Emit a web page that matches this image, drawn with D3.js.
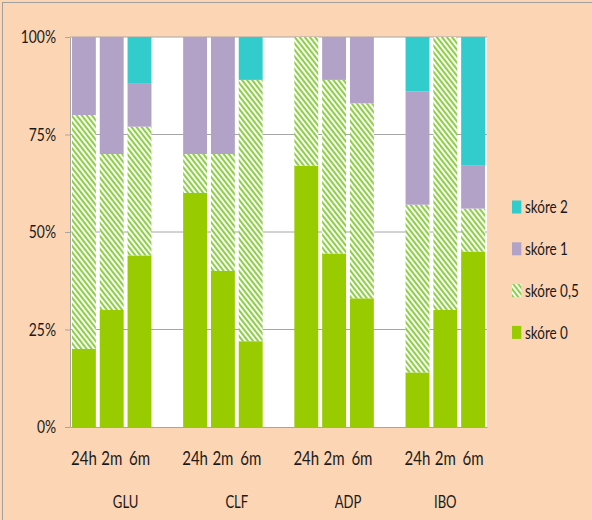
<!DOCTYPE html>
<html>
<head>
<meta charset="utf-8">
<script src="https://cdn.jsdelivr.net/npm/d3@7"></script>
<style>
  body { margin: 0; background: #fcd5b5; }
  text { font-family: Lato, "Open Sans", sans-serif; fill: #1a1a1a; }
</style>
</head>
<body>
<div id="chart"></div>
<script>
// groups and time points on the x axis
var groups = ["GLU", "CLF", "ADP", "IBO"];
var times = ["24h", "2m", "6m"];

// share of each score, in %, bar by bar (GLU 24h, 2m, 6m, CLF 24h, ...)
var skore0  = [20, 30, 44,   60, 40, 22,   67, 44.5, 33,   14, 30, 45];
var skore05 = [60, 40, 33,   10, 30, 67,   33, 44.5, 50,   43, 70, 11];
var skore1  = [20, 30, 11,   30, 30,  0,    0, 11,   17,   29,  0, 11];
var skore2  = [ 0,  0, 12,    0,  0, 11,    0,  0,    0,   14,  0, 33];

var yTicks = [0, 0.25, 0.5, 0.75, 1];

var seriesKeys = ["s0", "s05", "s1", "s2"];
var legendNames = {s2: "skóre 2", s1: "skóre 1", s05: "skóre 0,5", s0: "skóre 0"};
var colors = {s0: "#99cc00", s05: "url(#hatch)", s1: "#b3a2c7", s2: "#33cccc"};

var W = 592, H = 520;
var margin = {top: 37, left: 70},
    width = 417, height = 390;
var sx = 0.77; // text in the picture is squeezed sideways

// build the rows, with an empty slot after every group except the last
var slots = [], rows = [];
groups.forEach(function(g, gi) {
  times.forEach(function(t, ti) {
    var i = gi * times.length + ti;
    var id = g + "-" + t;
    slots.push(id);
    rows.push({id: id, time: t, s0: skore0[i] / 100, s05: skore05[i] / 100,
               s1: skore1[i] / 100, s2: skore2[i] / 100});
  });
  if (gi < groups.length - 1) slots.push(g + "-gap");
});

var x = d3.scaleBand()
    .domain(slots)
    .range([0, width])
    .paddingInner(0.14)
    .paddingOuter(0.07);

var y = d3.scaleLinear()
    .domain([0, 1])
    .range([height, 0]);

var svg = d3.select("#chart").append("svg")
    .attr("width", W)
    .attr("height", H);

var defs = svg.append("defs");
var pat = defs.append("pattern")
    .attr("id", "hatch")
    .attr("patternUnits", "userSpaceOnUse")
    .attr("width", 4)
    .attr("height", 4)
    .attr("patternTransform", "rotate(-38)");
pat.append("rect").attr("width", 4).attr("height", 4).attr("fill", "#ffffff");
pat.append("rect").attr("width", 2.1).attr("height", 4).attr("fill", "#8fcf48");

// chart background and outer frame
svg.append("rect")
    .attr("x", 2.5).attr("y", 2.5)
    .attr("width", W).attr("height", H)
    .attr("fill", "#fcd5b5")
    .attr("stroke", "#a0a0a0");

var g = svg.append("g")
    .attr("transform", "translate(" + margin.left + "," + margin.top + ")");

g.append("rect")
    .attr("width", width)
    .attr("height", height)
    .attr("fill", "#ffffff");

// gridlines
g.selectAll(".grid")
    .data(yTicks.slice(1))
  .enter().append("line")
    .attr("x1", 0).attr("x2", width)
    .attr("y1", function(d) { return y(d); })
    .attr("y2", function(d) { return y(d); })
    .attr("stroke", "#a6a6a6")
    .attr("stroke-width", 1);

var stacked = d3.stack().keys(seriesKeys)(rows);

g.selectAll(".series")
    .data(stacked)
  .enter().append("g")
    .attr("fill", function(d) { return colors[d.key]; })
  .selectAll("rect")
    .data(function(d) { return d; })
  .enter().append("rect")
    .attr("x", function(d) { return x(d.data.id); })
    .attr("width", x.bandwidth())
    .attr("y", function(d) { return y(d[1]); })
    .attr("height", function(d) { return y(d[0]) - y(d[1]); });

// y axis
var yAxis = g.append("g")
    .call(d3.axisLeft(y).tickValues(yTicks).tickFormat(d3.format(".0%"))
      .tickSize(5).tickSizeOuter(0));
yAxis.select(".domain").attr("stroke", "#a6a6a6");
yAxis.selectAll(".tick line").attr("stroke", "#a6a6a6");
yAxis.selectAll(".tick text")
    .attr("x", -14 / sx)
    .attr("transform", "scale(" + sx + ",1)")
    .style("font-size", "18px");

// x axis
var xAxis = g.append("g")
    .attr("transform", "translate(0," + height + ")")
    .call(d3.axisBottom(x)
      .tickValues(rows.map(function(d) { return d.id; }))
      .tickFormat(function(id) { return id.split("-")[1]; })
      .tickSize(0).tickSizeOuter(0));
xAxis.select(".domain").attr("stroke", "#a6a6a6");
xAxis.selectAll(".tick text")
    .attr("y", 38)
    .attr("dy", 0)
    .attr("transform", "scale(" + sx + ",1)")
    .style("font-size", "19.5px");

// group labels, centred on their slots
g.selectAll(".grp")
    .data(groups)
  .enter().append("text")
    .attr("text-anchor", "middle")
    .attr("transform", function(d, gi) {
      var ids = slots.filter(function(s) { return s.indexOf(d + "-") === 0; });
      var x0 = x(ids[0]) - x.step() * x.paddingInner() / 2;
      var cx = x0 + ids.length * x.step() / 2;
      return "translate(" + cx + "," + (height + 81) + ") scale(" + sx + ",1)";
    })
    .style("font-size", "17px")
    .text(function(d) { return d; });

// legend
var legend = svg.selectAll(".legend")
    .data(["s2", "s1", "s05", "s0"])
  .enter().append("g")
    .attr("transform", function(d, i) { return "translate(512," + (207 + i * 41.8) + ")"; });

legend.append("rect")
    .attr("x", 0).attr("y", -6.5)
    .attr("width", 9.3).attr("height", 13)
    .attr("fill", function(d) { return colors[d]; });

legend.append("text")
    .attr("transform", "translate(13,0) scale(" + sx + ",1)")
    .attr("dy", "0.35em")
    .style("font-size", "17.5px")
    .text(function(d) { return legendNames[d]; });
</script>
</body>
</html>
